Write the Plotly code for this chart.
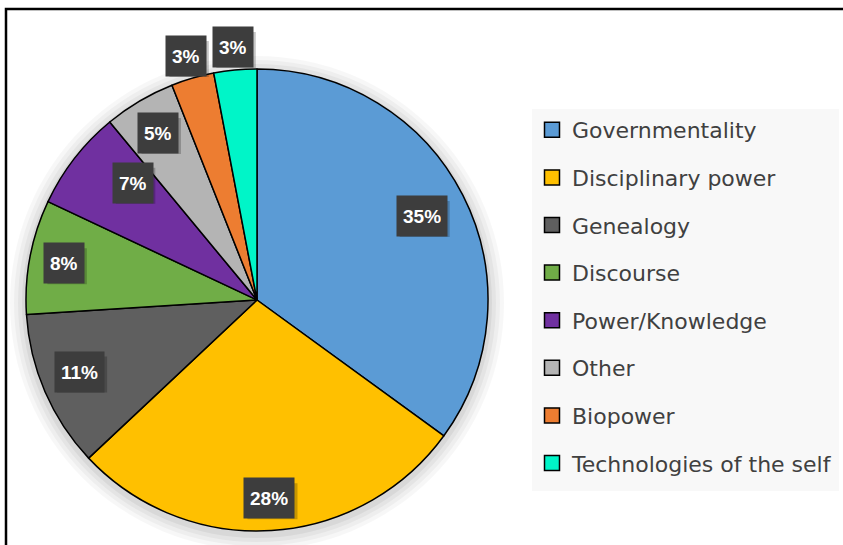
import math
import plotly.graph_objects as go

# ---- data ----
categories = ["Governmentality", "Disciplinary power", "Genealogy", "Discourse",
              "Power/Knowledge", "Other", "Biopower", "Technologies of the self"]
shares = [35, 28, 11, 8, 7, 5, 3, 3]

# ---- style ----
colors = ["#5B9BD5", "#FFC000", "#5F5F5F", "#70AD47",
          "#7030A0", "#B4B4B4", "#ED7D31", "#00F5C8"]
label_radius = [0.80, 0.86, 0.83, 0.85, 0.74, 0.84, 1.10, 1.10]
label_turn_deg = [0, 0, 1.5, 0, 5.5, 0, 0, 0]

W, H = 843, 545
CX, CY, R = 257, 300, 231
LBL_FONT = 19
LBL_PAD = 6
LBL_H = 28


def px(x):
    return x / W


def py(y):
    return 1 - y / H


fig = go.Figure()

shapes = []
# soft drop shadow behind the pie
for grow, op in [(16, 0.03), (12, 0.035), (8, 0.04), (4, 0.05)]:
    shapes.append(dict(type="circle", xref="paper", yref="paper",
                       x0=px(CX - R - grow), x1=px(CX + R + grow),
                       y0=py(CY + 3 + R + grow), y1=py(CY + 3 - R - grow),
                       fillcolor=f"rgba(0,0,0,{op})", line=dict(width=0),
                       layer="below"))
# legend panel background
shapes.append(dict(type="rect", xref="paper", yref="paper",
                   x0=px(532), x1=px(839), y0=py(491), y1=py(109),
                   fillcolor="#f8f8f8", line=dict(width=0), layer="below"))

fig.add_trace(go.Pie(
    labels=categories, values=shares, sort=False, direction="clockwise",
    rotation=0, textinfo="none", hoverinfo="label+percent",
    marker=dict(colors=colors, line=dict(color="black", width=1.5)),
    domain=dict(x=[px(CX - R), px(CX + R)], y=[py(CY + R), py(CY - R)]),
    showlegend=False,
))

# legend entries
for i, (c, col) in enumerate(zip(categories, colors)):
    fig.add_trace(go.Scatter(
        x=[None], y=[None], mode="markers", name=c, legendgroup=f"g{i}",
        marker=dict(symbol="square", size=15, color=col,
                    line=dict(color="black", width=1.5)),
    ))

# data labels (with a small drop shadow under each box)
total = sum(shares)
annotations = []
cum = 0
for v, rf, turn in zip(shares, label_radius, label_turn_deg):
    mid = (cum + v / 2) / total * 2 * math.pi + math.radians(turn)
    cum += v
    lx = CX + rf * R * math.sin(mid)
    ly = CY - rf * R * math.cos(mid)
    pct = round(v / total * 100)
    txt = f"{pct}%"
    tw = (len(str(pct)) * 0.556 + 0.889) * LBL_FONT + 2 * LBL_PAD
    th = LBL_H + 2 * LBL_PAD - 4
    shapes.append(dict(type="rect", xref="paper", yref="paper",
                       x0=px(lx - tw / 2 + 3), x1=px(lx + tw / 2 + 3),
                       y0=py(ly + th / 2 + 3), y1=py(ly - th / 2 + 3),
                       fillcolor="rgba(0,0,0,0.22)", line=dict(width=0),
                       layer="above"))
    annotations.append(dict(x=px(lx), y=py(ly), xref="paper", yref="paper",
                            xanchor="center", yanchor="middle",
                            text=f"<b>{txt}</b>", showarrow=False,
                            height=LBL_H,
                            font=dict(family="Liberation Sans", size=LBL_FONT,
                                      color="white"),
                            bgcolor="#3d3d3d", borderpad=LBL_PAD))

# outer frame
shapes.append(dict(type="rect", xref="paper", yref="paper",
                   x0=px(6), x1=1.2, y0=-0.2, y1=py(9),
                   line=dict(color="black", width=2.5), fillcolor="rgba(0,0,0,0)",
                   layer="above"))

fig.update_layout(
    width=W, height=H,
    margin=dict(l=0, r=0, t=0, b=0),
    paper_bgcolor="white", plot_bgcolor="white",
    xaxis=dict(visible=False), yaxis=dict(visible=False),
    shapes=shapes, annotations=annotations,
    legend=dict(x=px(532), y=py(109), xanchor="left", yanchor="top",
                bgcolor="rgba(0,0,0,0)", borderwidth=0, traceorder="grouped",
                tracegroupgap=16,
                font=dict(family="DejaVu Sans", size=22, color="#404040")),
)

fig.write_html("out.html", config={"displayModeBar": False},
               post_script="document.body.style.margin='0';")
